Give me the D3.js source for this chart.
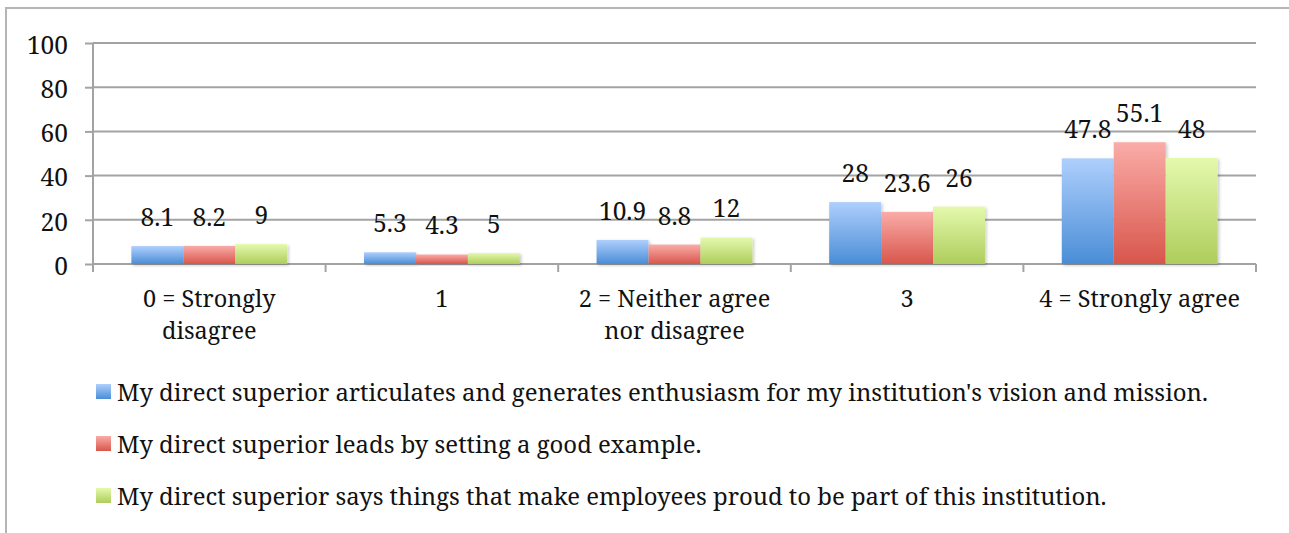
<!DOCTYPE html>
<html>
<head>
<meta charset="utf-8">
<script src="https://cdn.jsdelivr.net/npm/d3@7"></script>
<style>
  html, body { margin: 0; padding: 0; background: #fff; }
  svg { display: block; }
</style>
</head>
<body>
<svg id="chart" width="1289" height="533"></svg>
<script>
// Response categories (two-line labels where wrapped)
const categories = ["0 = Strongly disagree", "1", "2 = Neither agree nor disagree", "3", "4 = Strongly agree"];
const categoryLines = [["0 = Strongly", "disagree"], ["1"], ["2 = Neither agree", "nor disagree"], ["3"], ["4 = Strongly agree"]];

// Statements (series)
const seriesNames = [
  "My direct superior articulates and generates enthusiasm for my institution's vision and mission.",
  "My direct superior leads by setting a good example.",
  "My direct superior says things that make employees proud to be part of this institution."
];

// Percent of respondents per category, one array per statement
const visionMission = [8.1, 5.3, 10.9, 28, 47.8];
const goodExample   = [8.2, 4.3, 8.8, 23.6, 55.1];
const proudToBe     = [9, 5, 12, 26, 48];
const seriesValues = [visionMission, goodExample, proudToBe];

const yTicks = [0, 20, 40, 60, 80, 100];

// Gradient stops (top, bottom) for each series
const seriesColors = [
  ["#aecffd", "#4a8dd6"],
  ["#faaca8", "#d8564b"],
  ["#e4f9ad", "#aecd5c"]
];

const FONT = '"Noto Serif", "Liberation Serif", serif';
const INK = "#111";
const GRID = "#a3a3a3";

const svg = d3.select("#chart");
const plot = { left: 93, right: 1256, top: 43, bottom: 264 };

// Outer frame (top and left edges visible)
svg.append("path")
  .attr("d", "M6,533 L6,8 L1289,8")
  .attr("fill", "none").attr("stroke", "#b5b5b5").attr("stroke-width", 2);

const defs = svg.append("defs");
seriesColors.forEach((c, i) => {
  const g = defs.append("linearGradient").attr("id", "grad" + i)
    .attr("x1", 0).attr("y1", 0).attr("x2", 0).attr("y2", 1);
  g.append("stop").attr("offset", "0%").attr("stop-color", c[0]);
  g.append("stop").attr("offset", "100%").attr("stop-color", c[1]);
});
const shadow = defs.append("filter").attr("id", "shadow")
  .attr("x", "-10%").attr("y", "-10%").attr("width", "130%").attr("height", "130%");
shadow.append("feDropShadow").attr("dx", 1.5).attr("dy", 1.5).attr("stdDeviation", 1.5)
  .attr("flood-color", "#000").attr("flood-opacity", 0.22);

const x = d3.scaleBand().domain(categories).range([plot.left, plot.right]);
const y = d3.scaleLinear().domain([0, 100]).range([plot.bottom, plot.top]);

// Gridlines
svg.append("g").selectAll("line").data(yTicks.filter(t => t > 0)).join("line")
  .attr("x1", plot.left).attr("x2", plot.right)
  .attr("y1", d => y(d)).attr("y2", d => y(d))
  .attr("stroke", GRID).attr("stroke-width", 2);

// Y axis
const yAxis = svg.append("g").attr("transform", `translate(${plot.left},0)`)
  .call(d3.axisLeft(y).tickValues(yTicks).tickSize(8).tickPadding(17));
yAxis.attr("font-family", null).attr("font-size", null);
yAxis.select(".domain").attr("stroke", GRID).attr("stroke-width", 2)
  .attr("d", `M0,${plot.top}V${plot.bottom + 8}`);
yAxis.selectAll(".tick line").attr("stroke", GRID).attr("stroke-width", 2);
yAxis.selectAll(".tick text")
  .style("font-family", FONT).style("font-size", "24.5px")
  .attr("dy", "0.42em").attr("fill", INK);

// X axis baseline and category boundary ticks
svg.append("line").attr("x1", plot.left).attr("x2", plot.right)
  .attr("y1", plot.bottom).attr("y2", plot.bottom)
  .attr("stroke", GRID).attr("stroke-width", 2);
const boundaries = categories.map(c => x(c)).concat([x(categories[categories.length - 1]) + x.bandwidth()]);
svg.append("g").selectAll("line").data(boundaries).join("line")
  .attr("x1", d => d).attr("x2", d => d)
  .attr("y1", plot.bottom).attr("y2", plot.bottom + 8)
  .attr("stroke", GRID).attr("stroke-width", 2);

// Category labels
const catG = svg.append("g");
categories.forEach((c, i) => {
  const cx = x(c) + x.bandwidth() / 2;
  const t = catG.append("text").attr("text-anchor", "middle")
    .style("font-family", FONT).style("font-size", "23.5px").attr("fill", INK)
    .attr("x", cx).attr("y", 307);
  categoryLines[i].forEach((line, k) => {
    t.append("tspan").attr("x", cx).attr("dy", k === 0 ? 0 : 32).text(line);
  });
});

// Bars
const groupWidth = x.bandwidth() * 0.67;
const barW = groupWidth / seriesValues.length;
const barX = (ci, si) => x(categories[ci]) + (x.bandwidth() - groupWidth) / 2 + si * barW;

seriesValues.forEach((vals, si) => {
  svg.append("g").selectAll("rect").data(vals).join("rect")
    .attr("x", (d, ci) => barX(ci, si))
    .attr("y", d => y(d))
    .attr("width", barW)
    .attr("height", d => y(0) - y(d))
    .attr("fill", `url(#grad${si})`)
    .attr("filter", "url(#shadow)");
});

// Value labels
seriesValues.forEach((vals, si) => {
  svg.append("g").selectAll("text").data(vals).join("text")
    .attr("text-anchor", "middle")
    .style("font-family", FONT).style("font-size", "24.5px").attr("fill", INK)
    .attr("x", (d, ci) => barX(ci, si) + barW / 2)
    .attr("y", d => y(d) - 20)
    .text(d => d);
});

// Legend
const legend = svg.append("g");
seriesNames.forEach((name, i) => {
  const yy = 401 + i * 52;
  legend.append("rect").attr("x", 96).attr("y", yy - 17).attr("width", 15).attr("height", 15)
    .attr("fill", `url(#grad${i})`);
  legend.append("text").attr("x", 117).attr("y", yy)
    .style("font-family", FONT).style("font-size", "23.9px").attr("fill", INK)
    .text(name);
});
</script>
</body>
</html>
